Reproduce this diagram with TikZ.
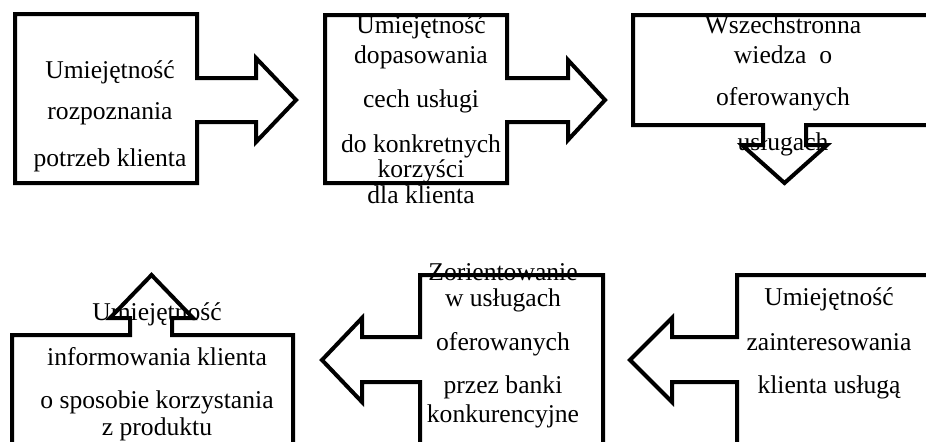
\documentclass[tikz,border=0pt]{standalone}
\usepackage{fontspec}
\setmainfont{Liberation Serif}
\usepackage{tikz}

\begin{document}
\begin{tikzpicture}[x=0.5pt, y=-0.5pt,
        callout/.style={draw=black, line width=2pt, line join=miter},
        line/.style={anchor=base, inner sep=0pt, font=\fontsize{12.8}{15}\selectfont}]
        \useasboundingbox (0,0) rectangle (926,441);
        \clip (0,0) rectangle (926,441);

        % top row
        \draw[callout] (15,14) -- (197,14) -- (197,78) -- (256,78) -- (256,58) -- (296,100)
            -- (256,142) -- (256,122) -- (197,122) -- (197,183) -- (15,183) -- cycle;
        \draw[callout] (325,15) -- (507,15) -- (507,78) -- (568,78) -- (568,60) -- (605,100)
            -- (568,140) -- (568,122) -- (507,122) -- (507,183) -- (325,183) -- cycle;
        \draw[callout] (633,15) -- (950,15) -- (950,125) -- (806,125) -- (806,145) -- (827,145)
            -- (784.5,183) -- (742,145) -- (763,145) -- (763,125) -- (633,125) -- cycle;

        % bottom row
        \draw[callout] (12,335) -- (130,335) -- (130,318) -- (110,318) -- (151.5,275) -- (193,318)
            -- (172,318) -- (172,335) -- (293,335) -- (293,460) -- (12,460) -- cycle;
        \draw[callout] (420,275) -- (603,275) -- (603,460) -- (420,460) -- (420,382) -- (362,382)
            -- (362,402) -- (322,360) -- (362,318) -- (362,337) -- (420,337) -- cycle;
        \draw[callout] (737,275) -- (950,275) -- (950,460) -- (737,460) -- (737,382) -- (672,382)
            -- (672,402) -- (630,360) -- (672,318) -- (672,337) -- (737,337) -- cycle;

        % texts
        \foreach \txt/\yy [count=\i] in {Umiejętność/78, rozpoznania/119, potrzeb klienta/166}
            \node[line] (rozp-\i) at (110,\yy) {\txt};
        \foreach \txt/\yy [count=\i] in {Umiejętność/33, dopasowania/63, cech usługi/107,
                do konkretnych/152, korzyści/177, dla klienta/203}
            \node[line] (dopas-\i) at (421,\yy) {\txt};
        \foreach \txt/\yy [count=\i] in {Wszechstronna/33, wiedza~\ o/63, oferowanych/105, usługach/150}
            \node[line] (wiedza-\i) at (783,\yy) {\txt};
        \foreach \txt/\yy [count=\i] in {Umiejętność/320, informowania klienta/365,
                o sposobie korzystania/408, z produktu/435}
            \node[line] (inform-\i) at (157,\yy) {\txt};
        \foreach \txt/\yy [count=\i] in {Zorientowanie/280, w usługach/306, oferowanych/350,
                przez banki/393, konkurencyjne/422}
            \node[line] (orient-\i) at (503,\yy) {\txt};
        \foreach \txt/\yy [count=\i] in {Umiejętność/305, zainteresowania/350, klienta usługą/393}
            \node[line] (zaint-\i) at (829,\yy) {\txt};

    \end{tikzpicture}
\end{document}
